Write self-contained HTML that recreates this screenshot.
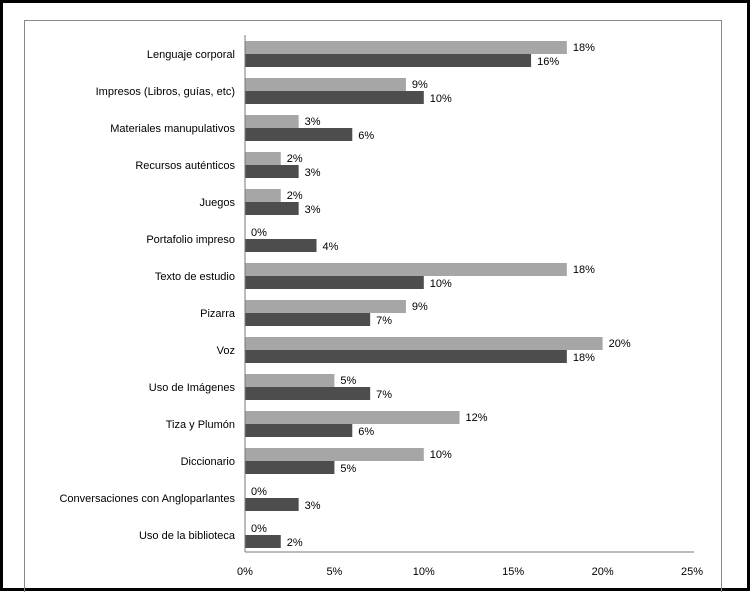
<!DOCTYPE html>
<html><head><meta charset="utf-8"><style>
body{margin:0;background:#fff}
svg{display:block;font-family:"Liberation Sans",sans-serif}
</style></head><body>
<svg id="c" width="750" height="592">
<rect x="1.5" y="1.5" width="747" height="588" fill="none" stroke="#000" stroke-width="3"/>
<rect x="24.5" y="20.5" width="697" height="580" fill="none" stroke="#888" stroke-width="1"/>
</svg>
<script>
const categories=["Lenguaje corporal","Impresos (Libros, guías, etc)","Materiales manupulativos","Recursos auténticos","Juegos","Portafolio impreso","Texto de estudio","Pizarra","Voz","Uso de Imágenes","Tiza y Plumón","Diccionario","Conversaciones con Angloparlantes","Uso de la biblioteca"];
const seriesA=[18,9,3,2,2,0,18,9,20,5,12,10,0,0];
const seriesB=[16,10,6,3,3,4,10,7,18,7,6,5,3,2];
const ticks=[0,5,10,15,20,25];
const svg=document.getElementById('c');const NS='http://www.w3.org/2000/svg';
const x0=245,x1=692,xmax=25,top0=54,step=37,bh=13;
const X=v=>x0+(x1-x0)*v/xmax;
function mk(t,a,txt){const e=document.createElementNS(NS,t);for(const k in a)e.setAttribute(k,a[k]);if(txt!=null)e.textContent=txt;svg.appendChild(e);return e;}
categories.forEach((c,i)=>{const cy=top0+step*i;
 let l=mk('text',{x:235,y:cy+4,'text-anchor':'end','font-size':11,fill:'#000'},c);
 
 
 let a=mk('rect',{x:x0,y:cy-bh,width:X(seriesA[i])-x0,height:bh,fill:'#a6a6a6'});
 
 
 let b=mk('rect',{x:x0,y:cy,width:X(seriesB[i])-x0,height:bh,fill:'#4d4d4d'});
 
 
 let ta=mk('text',{x:X(seriesA[i])+6,y:cy-3,'font-size':11,fill:'#000'},seriesA[i]+'%');
 
 
 let tb=mk('text',{x:X(seriesB[i])+6,y:cy+11,'font-size':11,fill:'#000'},seriesB[i]+'%');
 
 
});
let ay=mk('line',{x1:x0,y1:35,x2:x0,y2:552,stroke:'#777'});


let ax=mk('line',{x1:x0,y1:552,x2:694,y2:552,stroke:'#777'});


ticks.forEach(t=>{let e=mk('text',{x:X(t),y:575,'text-anchor':'middle','font-size':11,fill:'#000'},t+'%');
 
 });
</script>
</body></html>
